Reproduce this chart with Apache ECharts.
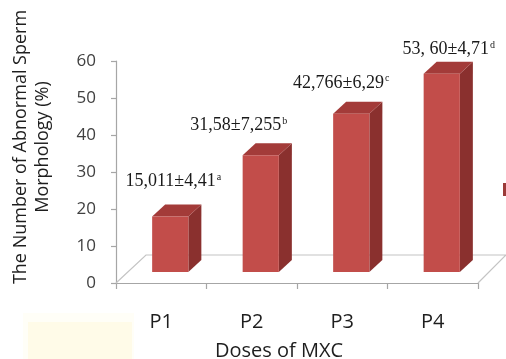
<!DOCTYPE html>
<html>
<head>
<meta charset="utf-8">
<script src="https://cdn.jsdelivr.net/npm/echarts@6/dist/echarts.min.js"></script>
<style>
  html, body { margin: 0; padding: 0; background: #ffffff; }
  #chart { width: 506px; height: 359px; }
</style>
</head>
<body>
<div id="chart"></div>
<script>
// Dose groups and mean abnormal sperm morphology (%)
const categories = ['P1', 'P2', 'P3', 'P4'];
const means = [15.011, 31.58, 42.766, 53.60];
const meanLabels = ['15,011±4,41', '31,58±7,255', '42,766±6,29', '53, 60±4,71'];
const groupLetters = ['a', 'b', 'c', 'd'];
const yMin = 0, yMax = 60, yStep = 10;

// 3D look of the column chart (pixels)
const FLOOR_DX = 30, FLOOR_DY = 28;   // depth of the floor plane
const BAR_DX = 9, BAR_DY = 11;        // where the bars stand inside the floor
const SIDE_DX = 13, SIDE_DY = 12;     // thickness of each column
// hand placement of the value labels relative to each column top
const labelNudge = [[3, -35], [-22, -30], [-10, -31], [7, -24]];

const chart = echarts.init(document.getElementById('chart'), null, { renderer: 'canvas' });

function renderColumn(params, api) {
  const i = api.value(0);
  const v = api.value(1);
  const base = api.coord([i, 0]);
  const top = api.coord([i, v]);
  const band = api.size([1, 0])[0];
  const w = band * 0.4;
  const fx = base[0] + BAR_DX - w / 2;
  const y0 = base[1] - BAR_DY;
  const y1 = top[1] - BAR_DY;
  const nudge = labelNudge[params.dataIndex];
  return {
    type: 'group',
    children: [
      {
        type: 'polygon',
        shape: { points: [[fx + w, y1], [fx + w + SIDE_DX, y1 - SIDE_DY], [fx + w + SIDE_DX, y0 - SIDE_DY], [fx + w, y0]] },
        style: { fill: '#8a302e' }
      },
      {
        type: 'polygon',
        shape: { points: [[fx, y1], [fx + SIDE_DX, y1 - SIDE_DY], [fx + w + SIDE_DX, y1 - SIDE_DY], [fx + w, y1]] },
        style: { fill: '#a33b39' }
      },
      {
        type: 'rect',
        shape: { x: fx, y: y1, width: w, height: y0 - y1 },
        style: { fill: '#c24d4a' }
      },
      {
        type: 'text',
        x: fx + w / 2 + nudge[0],
        y: y1 + nudge[1],
        style: {
          text: '{m|' + meanLabels[params.dataIndex] + '}{s|' + groupLetters[params.dataIndex] + '}',
          align: 'center',
          verticalAlign: 'middle',
          rich: {
            m: { fontFamily: 'Liberation Serif', fontSize: 18, fill: '#1a1a1a' },
            s: { fontFamily: 'Liberation Serif', fontSize: 10, fill: '#1a1a1a', verticalAlign: 'top', padding: [0, 0, 8, 1] }
          }
        }
      }
    ]
  };
}

function renderFloor(params, api) {
  const left = api.coord([0, 0]);
  const right = api.coord([categories.length - 1, 0]);
  const band = api.size([1, 0])[0];
  const x0 = left[0] - band / 2;
  const x1 = right[0] + band / 2;
  const y = left[1];
  return {
    type: 'polyline',
    shape: { points: [[x0, y], [x0 + FLOOR_DX, y - FLOOR_DY], [x1 + FLOOR_DX - 2, y - FLOOR_DY], [x1, y]] },
    style: { stroke: '#c4c4c4', lineWidth: 1.2, fill: null }
  };
}

chart.setOption({
  backgroundColor: '#ffffff',
  animation: false,
  grid: { left: 116, right: 28, top: 61, bottom: 76, containLabel: false, outerBoundsMode: 'none' },
  xAxis: {
    type: 'category',
    data: categories,
    axisLine: { show: true, lineStyle: { color: '#a6a6a6', width: 1.2 } },
    axisTick: { show: true, length: 6, lineStyle: { color: '#a6a6a6', width: 1.2 } },
    axisLabel: { margin: 29, fontFamily: 'Open Sans', fontSize: 20, color: '#1e1e1e' }
  },
  yAxis: {
    type: 'value',
    min: yMin,
    max: yMax,
    interval: yStep,
    axisLine: { show: true, lineStyle: { color: '#a6a6a6', width: 1.2 } },
    axisTick: { show: true, length: 5, lineStyle: { color: '#a6a6a6', width: 1.2 } },
    splitLine: { show: false },
    axisLabel: { margin: 20, fontFamily: 'Open Sans', fontSize: 17, color: '#404040' }
  },
  graphic: [
    { type: 'rect', left: 23, top: 313, shape: { width: 111, height: 46 }, style: { fill: '#fffef7' }, z: -1 },
    { type: 'rect', left: 28, top: 322, shape: { width: 104, height: 37 }, style: { fill: '#fffbe8' }, z: -1 },
    { type: 'rect', left: 503, top: 183, shape: { width: 3, height: 13 }, style: { fill: '#9b3a38' } },
    {
      type: 'text',
      x: 32, y: 147,
      rotation: Math.PI / 2,
      style: {
        text: 'The Number of Abnormal Sperm\nMorphology (%)',
        fontFamily: 'Open Sans', fontSize: 18, lineHeight: 22,
        fill: '#1e1e1e', align: 'center', verticalAlign: 'middle'
      }
    },
    {
      type: 'text',
      x: 279, y: 351,
      style: {
        text: 'Doses of MXC',
        fontFamily: 'Open Sans', fontSize: 20,
        fill: '#1e1e1e', align: 'center', verticalAlign: 'middle'
      }
    }
  ],
  series: [
    {
      type: 'custom',
      renderItem: renderFloor,
      data: [[0, 0]],
      silent: true,
      z: 1
    },
    {
      type: 'custom',
      renderItem: renderColumn,
      data: categories.map((c, i) => [i, means[i]]),
      encode: { x: 0, y: 1 },
      clip: false,
      z: 2
    }
  ]
});
</script>
</body>
</html>
